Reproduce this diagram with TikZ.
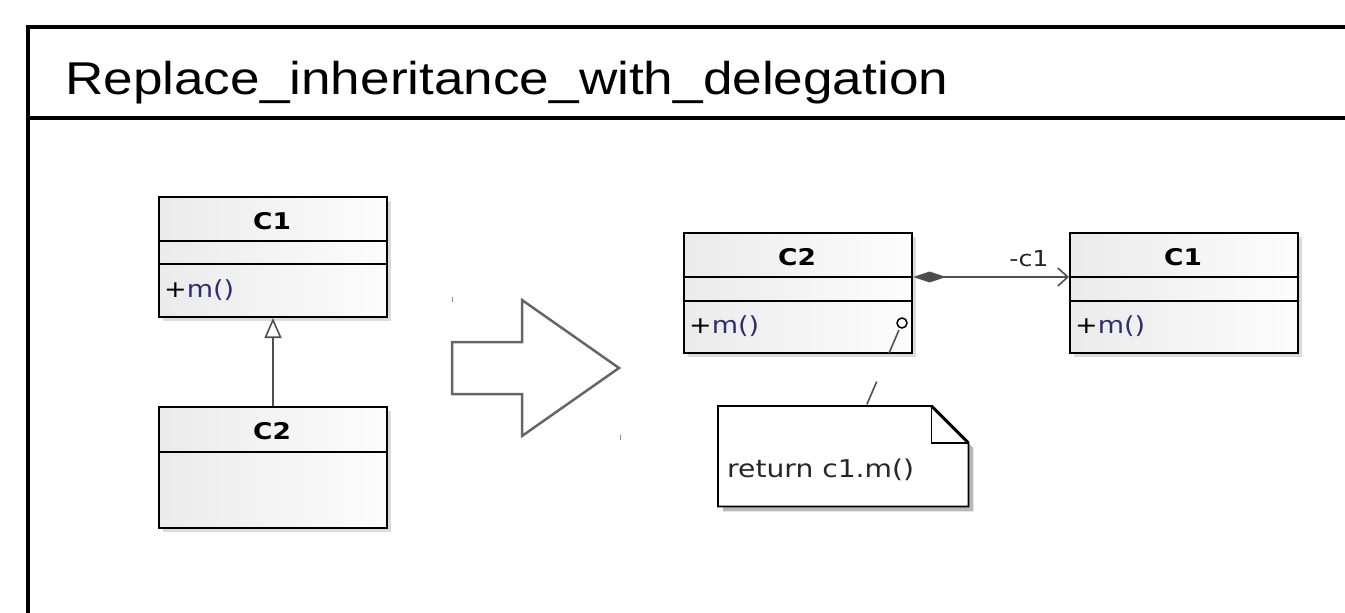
\documentclass[tikz,border=0pt]{standalone}
\usepackage{fontspec}
\setmainfont{Liberation Sans}
\newfontfamily\dejavu{DejaVu Sans}
\usetikzlibrary{arrows.meta,shadows}
\definecolor{methblue}{HTML}{2E2E6E}
\definecolor{linegray}{HTML}{505050}
\definecolor{arrowgray}{HTML}{666666}
\newcommand\stretchx[1]{\scalebox{1.15}[1]{#1}}
\begin{document}
\begin{tikzpicture}[x=1pt,y=-1pt,
  classbox/.style={draw=black, line width=2pt, left color=black!8, right color=black!1,
    drop shadow={shadow xshift=4pt, shadow yshift=-4pt, fill=black!28},
    minimum width=228pt, inner sep=0pt, anchor=north west},
  divline/.style={draw=black, line width=2pt},
  cname/.style={anchor=base, inner sep=0pt, font=\dejavu\bfseries\fontsize{23}{23}\selectfont},
  meth/.style={anchor=base west, inner sep=0pt, font=\dejavu\fontsize{23.5}{23.5}\selectfont},
  conn/.style={draw=linegray, line width=1.6pt},
  frameline/.style={draw=black, line width=3.5pt}
]
\useasboundingbox (0,0) rectangle (1345,613);
% frame
\draw[frameline] (28,613) -- (28,27) -- (1346,27);
\draw[frameline] (28,118) -- (1346,118);
\node[anchor=base west, inner sep=0pt, font=\fontsize{46}{46}\selectfont] (title) at (65,94)
  {\scalebox{1.155}[1]{Replace\_inheritance\_with\_delegation}};

% left diagram
\node[classbox, minimum height=120pt] (lc1) at (158,196) {};
\draw[divline] ([yshift=-45pt]lc1.north west) -- ([yshift=-45pt]lc1.north east);
\draw[divline] ([yshift=-68pt]lc1.north west) -- ([yshift=-68pt]lc1.north east);
\node[cname] (lc1t) at (272,229) {\stretchx{C1}};
\node[meth] (lc1m) at (164,297) {\stretchx{+\textcolor{methblue}{m()}}};

\node[classbox, minimum height=121pt] (lc2) at (158,406) {};
\draw[divline] ([yshift=-46pt]lc2.north west) -- ([yshift=-46pt]lc2.north east);
\node[cname] (lc2t) at (272,439) {\stretchx{C2}};

\draw[conn, -{Triangle[open, length=20pt, width=17pt, fill=white]}] (lc2.north) -- (lc1.south);

% big arrow
\draw[arrowgray, line width=2.5pt, line join=miter, fill=white]
  (452,342) -- (522,342) -- (522,300) -- (619,368) -- (522,436) -- (522,394) -- (452,394) -- cycle;
\draw[black!45, line width=0.8pt] (452,297) -- (452,302);
\draw[black!45, line width=0.8pt] (620,435) -- (620,440);

% right diagram
\node[classbox, minimum height=120pt] (rc2) at (683,232) {};
\draw[divline] ([yshift=-45pt]rc2.north west) -- ([yshift=-45pt]rc2.north east);
\draw[divline] ([yshift=-69pt]rc2.north west) -- ([yshift=-69pt]rc2.north east);
\node[cname] (rc2t) at (797,265) {\stretchx{C2}};
\node[meth] (rc2m) at (689,333) {\stretchx{+\textcolor{methblue}{m()}}};

\node[classbox, minimum height=120pt] (rc1) at (1069,232) {};
\draw[divline] ([yshift=-45pt]rc1.north west) -- ([yshift=-45pt]rc1.north east);
\draw[divline] ([yshift=-69pt]rc1.north west) -- ([yshift=-69pt]rc1.north east);
\node[cname] (rc1t) at (1183,265) {\stretchx{C1}};
\node[meth] (rc1m) at (1075,333) {\stretchx{+\textcolor{methblue}{m()}}};

\draw[conn, {Diamond[length=33pt, width=11pt, fill=black!70]}-{Straight Barb[length=10pt, width=18pt]}]
  ([yshift=-45pt]rc2.north east) -- ([yshift=-45pt]rc1.north west);
\node[anchor=base, inner sep=0pt, font=\dejavu\fontsize{22}{22}\selectfont, text=black!85] (lbl) at (1029,266) {\stretchx{-c1}};

% note
\node[inner sep=0pt, minimum width=250pt, minimum height=100pt, anchor=north west] (note) at (718,406) {};
\fill[black!28] ([shift={(5pt,-5pt)}]note.north west) -- ([shift={(-32pt,-5pt)}]note.north east)
  -- ([shift={(5pt,-42pt)}]note.north east) -- ([shift={(5pt,-5pt)}]note.south east)
  -- ([shift={(5pt,-5pt)}]note.south west) -- cycle;
\draw[black, line width=1.8pt, fill=white] (note.north west) -- ([xshift=-37pt]note.north east)
  -- ([yshift=-37pt]note.north east) -- (note.south east) -- (note.south west) -- cycle;
\draw[black, line width=3pt] ([xshift=-37pt]note.north east) -- ([yshift=-37pt]note.north east);
\draw[black, line width=1.8pt] ([xshift=-37pt]note.north east) -- ([xshift=-37pt,yshift=-37pt]note.north east)
  -- ([yshift=-37pt]note.north east);
\node[anchor=base west, inner sep=0pt, font=\dejavu\fontsize{24.5}{24.5}\selectfont, text=black!85] (notet) at (727,477)
  {\stretchx{return c1.m()}};

\node[circle, draw=black, line width=1.5pt, inner sep=0pt, minimum size=10pt, fill=white] (port) at (902,323) {};
\draw[conn, dash pattern=on 25pt off 31pt, shorten <=2pt] (port) -- ([xshift=23pt]note.north);
\end{tikzpicture}
\end{document}
